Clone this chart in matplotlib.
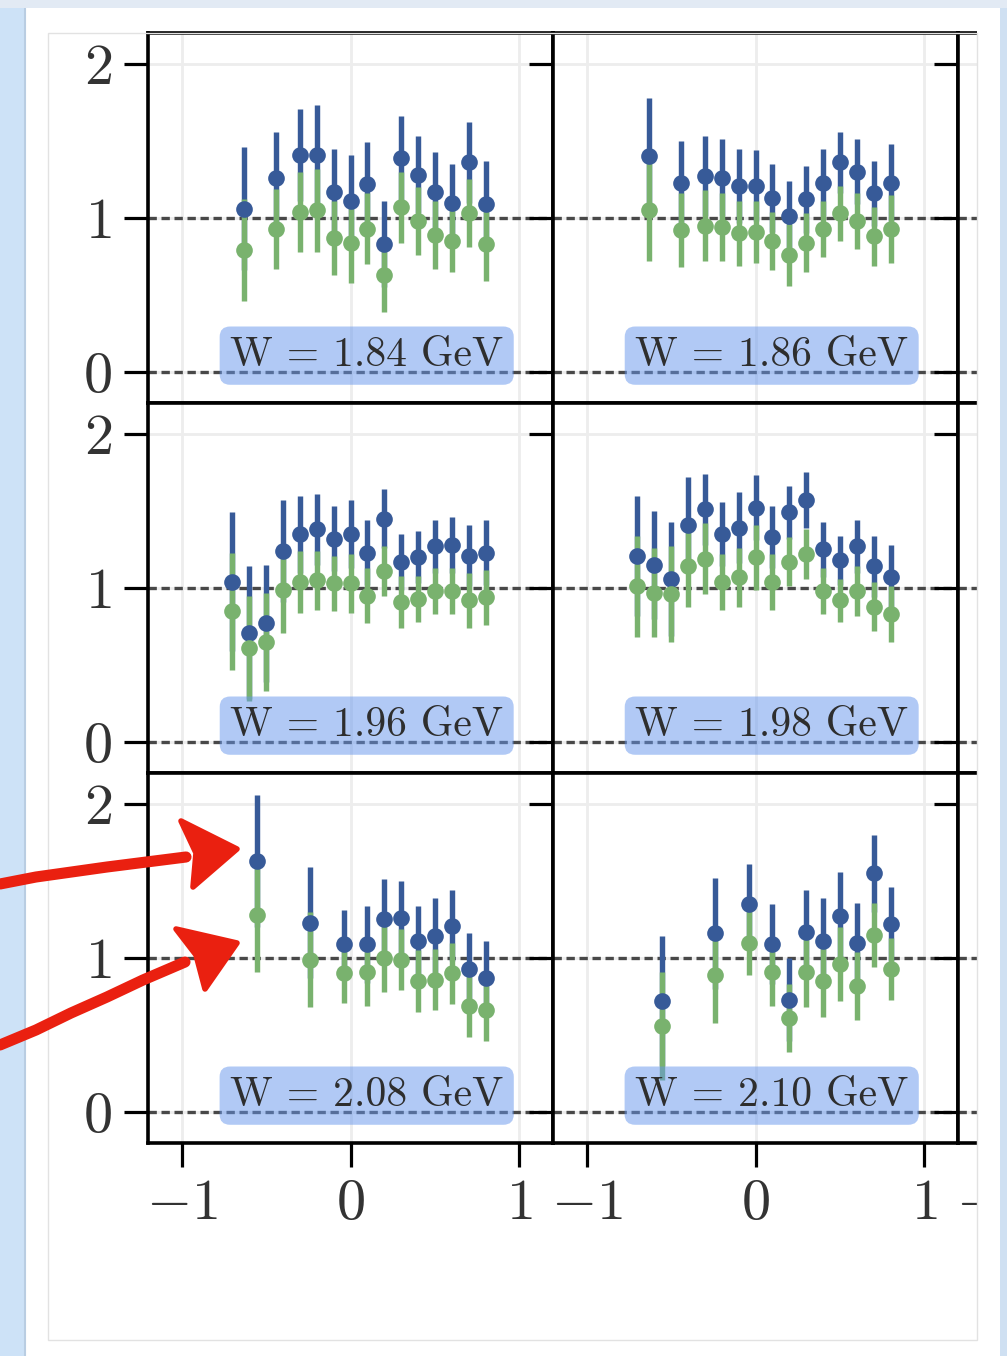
import matplotlib
matplotlib.use("Agg")
import matplotlib.pyplot as plt
from matplotlib.patches import Rectangle, Polygon
from matplotlib.lines import Line2D

# --- data: two normalisations of the same angular distribution per W bin ---
W_LABELS = ["1.84", "1.86", "1.96", "1.98", "2.08", "2.10"]

X_A = [-0.63, -0.44, -0.30, -0.20, -0.10, 0.00, 0.10, 0.20, 0.30, 0.40, 0.50, 0.60, 0.70, 0.80]
X_B = [-0.70, -0.60, -0.50, -0.40, -0.30, -0.20, -0.10, 0.00, 0.10, 0.20, 0.30, 0.40, 0.50, 0.60, 0.70, 0.80]
X_C = [-0.555, -0.24, -0.04, 0.10, 0.20, 0.30, 0.40, 0.50, 0.60, 0.70, 0.80]

# W = 1.84 GeV
blue_184 = [1.06, 1.26, 1.41, 1.41, 1.17, 1.11, 1.22, 0.83, 1.39, 1.28, 1.17, 1.10, 1.36, 1.09]
blue_err_184 = [0.40, 0.30, 0.30, 0.32, 0.28, 0.30, 0.27, 0.28, 0.27, 0.25, 0.26, 0.25, 0.26, 0.28]
green_184 = [0.79, 0.93, 1.04, 1.05, 0.87, 0.84, 0.93, 0.63, 1.07, 0.98, 0.89, 0.85, 1.03, 0.83]
green_err_184 = [0.33, 0.26, 0.26, 0.27, 0.24, 0.26, 0.23, 0.24, 0.23, 0.22, 0.22, 0.20, 0.22, 0.24]

# W = 1.86 GeV
blue_186 = [1.40, 1.23, 1.27, 1.26, 1.21, 1.21, 1.13, 1.01, 1.12, 1.23, 1.36, 1.30, 1.16, 1.23]
blue_err_186 = [0.38, 0.27, 0.26, 0.25, 0.24, 0.23, 0.22, 0.23, 0.22, 0.22, 0.20, 0.21, 0.21, 0.25]
green_186 = [1.05, 0.92, 0.95, 0.94, 0.90, 0.91, 0.85, 0.76, 0.84, 0.93, 1.03, 0.98, 0.88, 0.93]
green_err_186 = [0.33, 0.24, 0.23, 0.22, 0.21, 0.20, 0.19, 0.20, 0.19, 0.18, 0.18, 0.18, 0.19, 0.22]

# W = 1.96 GeV
blue_196 = [1.04, 0.71, 0.77, 1.24, 1.35, 1.38, 1.32, 1.35, 1.23, 1.45, 1.17, 1.20, 1.27, 1.28, 1.21, 1.23]
blue_err_196 = [0.45, 0.43, 0.38, 0.33, 0.25, 0.23, 0.21, 0.22, 0.21, 0.19, 0.18, 0.17, 0.17, 0.18, 0.20, 0.21]
green_196 = [0.85, 0.61, 0.65, 0.99, 1.04, 1.05, 1.03, 1.03, 0.95, 1.11, 0.91, 0.93, 0.98, 0.98, 0.92, 0.94]
green_err_196 = [0.38, 0.34, 0.32, 0.28, 0.20, 0.19, 0.18, 0.19, 0.18, 0.16, 0.17, 0.15, 0.15, 0.15, 0.18, 0.18]

# W = 1.98 GeV
blue_198 = [1.21, 1.15, 1.06, 1.41, 1.51, 1.35, 1.39, 1.52, 1.33, 1.49, 1.57, 1.25, 1.18, 1.27, 1.14, 1.07]
blue_err_198 = [0.39, 0.35, 0.37, 0.31, 0.23, 0.21, 0.23, 0.21, 0.20, 0.17, 0.18, 0.18, 0.16, 0.17, 0.20, 0.21]
green_198 = [1.01, 0.97, 0.96, 1.14, 1.19, 1.04, 1.07, 1.20, 1.04, 1.17, 1.22, 0.98, 0.92, 0.98, 0.88, 0.83]
green_err_198 = [0.33, 0.29, 0.31, 0.26, 0.23, 0.18, 0.19, 0.21, 0.18, 0.16, 0.16, 0.15, 0.14, 0.16, 0.16, 0.18]

# W = 2.08 GeV
blue_208 = [1.63, 1.23, 1.09, 1.09, 1.25, 1.26, 1.11, 1.14, 1.21, 0.93, 0.87]
blue_err_208 = [0.43, 0.36, 0.22, 0.25, 0.26, 0.24, 0.23, 0.25, 0.23, 0.23, 0.24]
green_208 = [1.28, 0.99, 0.90, 0.91, 1.00, 0.99, 0.85, 0.86, 0.90, 0.69, 0.66]
green_err_208 = [0.37, 0.31, 0.19, 0.22, 0.22, 0.20, 0.20, 0.20, 0.20, 0.20, 0.20]

# W = 2.10 GeV
blue_210 = [0.72, 1.16, 1.35, 1.09, 0.73, 1.17, 1.11, 1.27, 1.10, 1.55, 1.22]
blue_err_210 = [0.42, 0.36, 0.26, 0.26, 0.27, 0.27, 0.28, 0.29, 0.26, 0.25, 0.24]
green_210 = [0.56, 0.89, 1.10, 0.91, 0.61, 0.91, 0.85, 0.96, 0.82, 1.15, 0.93]
green_err_210 = [0.35, 0.31, 0.21, 0.22, 0.22, 0.23, 0.23, 0.24, 0.22, 0.21, 0.20]

PANELS = [
    (X_A, blue_184, blue_err_184, green_184, green_err_184),
    (X_A, blue_186, blue_err_186, green_186, green_err_186),
    (X_B, blue_196, blue_err_196, green_196, green_err_196),
    (X_B, blue_198, blue_err_198, green_198, green_err_198),
    (X_C, blue_208, blue_err_208, green_208, green_err_208),
    (X_C, blue_210, blue_err_210, green_210, green_err_210),
]

BLUE = "#375a98"
GREEN = "#79b26e"
RED = "#ea2010"

W_PX, H_PX = 1007, 1356

plt.rcParams.update({
    "font.family": "serif",
    "font.serif": ["cmr10"],
    "mathtext.fontset": "cm",
    "axes.formatter.use_mathtext": True,
})


def fx(x):
    return x / W_PX


def fy(y):
    return 1 - y / H_PX


def fig_rect(fig, x0, y0, x1, y1, **kw):
    fig.add_artist(Rectangle((fx(x0), fy(y1)), fx(x1) - fx(x0), fy(y0) - fy(y1),
                             transform=fig.transFigure, **kw))


fig = plt.figure(figsize=(W_PX / 100, H_PX / 100), dpi=100, facecolor="#e2eaf4")

# page behind the figure panel
fig_rect(fig, 0, 8, 24, H_PX, facecolor="#cde2f7", edgecolor="none", zorder=-10)
fig_rect(fig, 24, 8, 1000, H_PX, facecolor="white", edgecolor="none", zorder=-10)
fig.add_artist(Line2D([fx(25), fx(25)], [fy(8), fy(H_PX)], transform=fig.transFigure,
                      color="#b9cde2", lw=1.5, zorder=-9))

col_left = [148, 553, 958]
row_top = [33, 403, 773]
aw, ah = 405, 370

for r, top in enumerate(row_top):
    for c, left in enumerate(col_left):
        ax = fig.add_axes([fx(left), fy(top + ah), aw / W_PX, ah / H_PX])
        ax.set_xlim(-1.2, 1.2)
        ax.set_ylim(-0.2, 2.2)
        ax.set_xticks([-1, 0, 1])
        ax.set_yticks([0, 1, 2])
        ax.set_axisbelow(True)
        ax.grid(True, color="#ededed", lw=2)
        for sp in ax.spines.values():
            sp.set_color("black")
            sp.set_linewidth(2.6)
        ax.tick_params(axis="both", direction="out", length=17, width=2.3,
                       color="black", labelsize=42, labelcolor="#333333", pad=9)
        ax.tick_params(axis="y", labelleft=(c == 0))
        ax.tick_params(axis="x", bottom=(r == 2), labelbottom=(r == 2))

        for level in (0, 1):
            ax.axhline(level, color="#2b2b2b", lw=2.4, dashes=(2.5, 1.4), alpha=0.85, zorder=1.5)

        if c == 2:
            continue
        i = r * 2 + c
        x, b, be, g, ge = PANELS[i]
        ax.errorbar(x, b, yerr=be, fmt="o", color=BLUE, ms=12, mew=0,
                    elinewidth=3.9, capsize=0)
        ax.errorbar(x, g, yerr=ge, fmt="o", color=GREEN, ms=12, mew=0,
                    elinewidth=3.9, capsize=0)
        ax.text(0.54, 0.128, f"W = {W_LABELS[i]} GeV", transform=ax.transAxes,
                ha="center", va="center", fontsize=30, color="#2e2e2e",
                bbox=dict(boxstyle="round,pad=0.25", fc="cornflowerblue", ec="none", alpha=0.5))

# edge of the panel cuts off the next column
fig_rect(fig, 977, 0, 1000, H_PX, facecolor="white", edgecolor="none", zorder=10)
fig_rect(fig, 1000, 0, W_PX, H_PX, facecolor="#cfe0f2", edgecolor="none", zorder=10)
fig_rect(fig, 0, 0, W_PX, 8, facecolor="#e2eaf4", edgecolor="none", zorder=10)
fig_rect(fig, 48, 33, 977, 1340, facecolor="none", edgecolor="#e2e2e2", lw=1, zorder=11)

# hand-drawn arrows pointing at the first W = 2.08 GeV bin
arrow_lines = [
    ([0, 36, 107, 186], [884, 877, 867, 857]),
    ([0, 36, 71, 107, 143, 185], [1045, 1030, 1013, 997, 980, 962]),
]
arrow_heads = [
    [(181, 821), (237, 849), (193, 887), (196, 853)],
    [(176, 929), (237, 943), (205, 989), (196, 955)],
]
for xs, ys in arrow_lines:
    fig.add_artist(Line2D([fx(v) for v in xs], [fy(v) for v in ys], transform=fig.transFigure,
                          color=RED, lw=8, solid_capstyle="round", solid_joinstyle="round",
                          zorder=20))
for head in arrow_heads:
    fig.add_artist(Polygon([(fx(px), fy(py)) for px, py in head], closed=True,
                           transform=fig.transFigure, facecolor=RED, edgecolor=RED,
                           lw=4, joinstyle="round", zorder=20))

fig.savefig("out.png", dpi=100, facecolor=fig.get_facecolor())
